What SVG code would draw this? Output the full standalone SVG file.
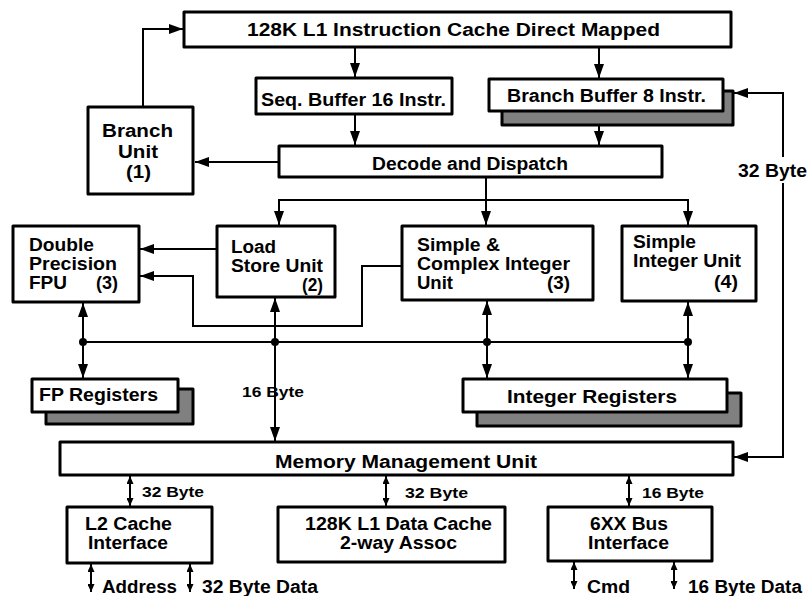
<svg xmlns="http://www.w3.org/2000/svg" width="809" height="596" viewBox="0 0 809 596">
<defs>
<style>
.box{fill:#fff;stroke:#000;stroke-width:3;stroke-linejoin:round}
.sh{fill:#808080;stroke:#000;stroke-width:3;stroke-linejoin:round}
.ln{fill:none;stroke:#000;stroke-width:2}
text{font-family:"Liberation Sans",Arial,Helvetica,sans-serif;font-weight:bold;font-size:18px;fill:#000}
.s{font-size:15px}
</style>
<marker id="ah" markerUnits="userSpaceOnUse" markerWidth="14" markerHeight="10" refX="14" refY="5" orient="auto-start-reverse"><path d="M0,0 L14,5 L0,10 z" fill="#000"/></marker>
<marker id="as" markerUnits="userSpaceOnUse" markerWidth="8" markerHeight="7" refX="8" refY="3.5" orient="auto-start-reverse"><path d="M0,0 L8,3.5 L0,7 z" fill="#000"/></marker>
</defs>
<rect width="809" height="596" fill="#fff"/>

<g id="connectors">
<path class="ln" d="M355,47 V77" marker-end="url(#ah)"/>
<path class="ln" d="M599,47 V78" marker-end="url(#ah)"/>
<path class="ln" d="M355,114 V145" marker-end="url(#ah)"/>
<path class="ln" d="M599,125 V145" marker-end="url(#ah)"/>
<path class="ln" d="M279,162 H195" marker-end="url(#ah)"/>
<path class="ln" d="M143,107 V29 H183" marker-end="url(#ah)"/>
<path class="ln" d="M783,183 V457 H734" marker-end="url(#ah)"/>
<path class="ln" d="M783,157 V93 H734" marker-end="url(#ah)"/>
<path class="ln" d="M279,225 V200 H688 V225" marker-start="url(#ah)" marker-end="url(#ah)"/>
<path class="ln" d="M486,177 V225" marker-end="url(#ah)"/>
<path class="ln" d="M217,249 H140" marker-end="url(#ah)"/>
<path class="ln" d="M402,266 H362 V326 H193 V276 H140" marker-end="url(#ah)"/>
<path class="ln" d="M83,342 H688"/>
<circle cx="83" cy="342" r="4"/>
<circle cx="275" cy="342" r="4"/>
<circle cx="487" cy="342" r="4"/>
<circle cx="688" cy="342" r="4"/>
<path class="ln" d="M83,303 V378" marker-start="url(#ah)" marker-end="url(#ah)"/>
<path class="ln" d="M275,298 V441" marker-start="url(#ah)" marker-end="url(#ah)"/>
<path class="ln" d="M487,301 V378" marker-start="url(#ah)" marker-end="url(#ah)"/>
<path class="ln" d="M688,302 V378" marker-start="url(#ah)" marker-end="url(#ah)"/>
<path class="ln" d="M130,476 V506" marker-start="url(#as)" marker-end="url(#as)"/>
<path class="ln" d="M386,476 V506" marker-start="url(#as)" marker-end="url(#as)"/>
<path class="ln" d="M629,476 V506" marker-start="url(#as)" marker-end="url(#as)"/>
<path class="ln" d="M91,564 V592" marker-start="url(#as)" marker-end="url(#as)"/>
<path class="ln" d="M190,564 V592" marker-start="url(#as)" marker-end="url(#as)"/>
<path class="ln" d="M574,562 V589" marker-start="url(#as)" marker-end="url(#as)"/>
<path class="ln" d="M674,562 V589" marker-start="url(#as)" marker-end="url(#as)"/>
<text x="738" y="177" textLength="69" lengthAdjust="spacingAndGlyphs">32 Byte</text>
<text class="s" x="242" y="397" textLength="62" lengthAdjust="spacingAndGlyphs">16 Byte</text>
<text class="s" x="142" y="497" textLength="62" lengthAdjust="spacingAndGlyphs">32 Byte</text>
<text class="s" x="405" y="498" textLength="63" lengthAdjust="spacingAndGlyphs">32 Byte</text>
<text class="s" x="642" y="498" textLength="62" lengthAdjust="spacingAndGlyphs">16 Byte</text>
<text x="102" y="593" textLength="75" lengthAdjust="spacingAndGlyphs">Address</text>
<text x="202" y="593" textLength="116" lengthAdjust="spacingAndGlyphs">32 Byte Data</text>
<text x="587" y="593" textLength="43" lengthAdjust="spacingAndGlyphs">Cmd</text>
<text x="688" y="593" textLength="114" lengthAdjust="spacingAndGlyphs">16 Byte Data</text>
</g>

<g id="l1icache">
<rect class="box" x="184" y="12" width="547" height="35"/>
<text x="247" y="36" textLength="413" lengthAdjust="spacingAndGlyphs">128K L1 Instruction Cache Direct Mapped</text>
</g>
<g id="seqbuffer">
<rect class="box" x="256" y="78" width="196" height="36"/>
<text x="261" y="105.5" textLength="185" lengthAdjust="spacingAndGlyphs">Seq. Buffer 16 Instr.</text>
</g>
<g id="branchbuffer">
<rect class="sh" x="502" y="91" width="231" height="34"/>
<rect class="box" x="489" y="79" width="234" height="32"/>
<text x="507" y="101.7" textLength="199" lengthAdjust="spacingAndGlyphs">Branch Buffer 8 Instr.</text>
</g>
<g id="decode">
<rect class="box" x="279" y="146" width="383" height="31"/>
<text x="372" y="170" textLength="196" lengthAdjust="spacingAndGlyphs">Decode and Dispatch</text>
</g>
<g id="branchunit">
<rect class="box" x="88" y="107" width="105" height="87"/>
<text x="102" y="137" textLength="71" lengthAdjust="spacingAndGlyphs">Branch</text>
<text x="118" y="157.5" textLength="40" lengthAdjust="spacingAndGlyphs">Unit</text>
<text x="126" y="177.5" textLength="25" lengthAdjust="spacingAndGlyphs">(1)</text>
</g>
<g id="fpu">
<rect class="box" x="13" y="226" width="126" height="76"/>
<text x="29" y="251" textLength="65" lengthAdjust="spacingAndGlyphs">Double</text>
<text x="29" y="270" textLength="88" lengthAdjust="spacingAndGlyphs">Precision</text>
<text x="29" y="289" textLength="38" lengthAdjust="spacingAndGlyphs">FPU</text>
<text x="96" y="289" textLength="22" lengthAdjust="spacingAndGlyphs">(3)</text>
</g>
<g id="lsu">
<rect class="box" x="217" y="226" width="118" height="71"/>
<text x="231" y="253" textLength="45" lengthAdjust="spacingAndGlyphs">Load</text>
<text x="231" y="272" textLength="92" lengthAdjust="spacingAndGlyphs">Store Unit</text>
<text x="302" y="291" textLength="21" lengthAdjust="spacingAndGlyphs">(2)</text>
</g>
<g id="sciu">
<rect class="box" x="402" y="226" width="191" height="74"/>
<text x="417" y="251" textLength="83" lengthAdjust="spacingAndGlyphs">Simple &amp;</text>
<text x="417" y="269.5" textLength="153" lengthAdjust="spacingAndGlyphs">Complex Integer</text>
<text x="417" y="288.5" textLength="36" lengthAdjust="spacingAndGlyphs">Unit</text>
<text x="547" y="288.5" textLength="23" lengthAdjust="spacingAndGlyphs">(3)</text>
</g>
<g id="siu">
<rect class="box" x="622" y="226" width="134" height="75"/>
<text x="633" y="248" textLength="63" lengthAdjust="spacingAndGlyphs">Simple</text>
<text x="633" y="267" textLength="108" lengthAdjust="spacingAndGlyphs">Integer Unit</text>
<text x="714" y="288" textLength="24" lengthAdjust="spacingAndGlyphs">(4)</text>
</g>
<g id="fpregs">
<rect class="sh" x="46" y="389" width="147" height="35"/>
<rect class="box" x="32" y="379" width="146" height="33"/>
<text x="39" y="401" textLength="119" lengthAdjust="spacingAndGlyphs">FP Registers</text>
</g>
<g id="intregs">
<rect class="sh" x="477" y="393" width="264" height="33"/>
<rect class="box" x="463" y="379" width="264" height="33"/>
<text x="507" y="403" textLength="170" lengthAdjust="spacingAndGlyphs">Integer Registers</text>
</g>
<g id="mmu">
<rect class="box" x="60" y="442" width="673" height="33"/>
<text x="275" y="468" textLength="262" lengthAdjust="spacingAndGlyphs">Memory Management Unit</text>
</g>
<g id="l2cache">
<rect class="box" x="67" y="507" width="145" height="56"/>
<text x="85" y="530" textLength="87" lengthAdjust="spacingAndGlyphs">L2 Cache</text>
<text x="88" y="549" textLength="80" lengthAdjust="spacingAndGlyphs">Interface</text>
</g>
<g id="l1dcache">
<rect class="box" x="278" y="507" width="227" height="55"/>
<text x="305" y="530" textLength="187" lengthAdjust="spacingAndGlyphs">128K L1 Data Cache</text>
<text x="340" y="549" textLength="117" lengthAdjust="spacingAndGlyphs">2-way Assoc</text>
</g>
<g id="businterface">
<rect class="box" x="548" y="507" width="164" height="54"/>
<text x="590" y="530" textLength="78" lengthAdjust="spacingAndGlyphs">6XX Bus</text>
<text x="588" y="549" textLength="81" lengthAdjust="spacingAndGlyphs">Interface</text>
</g>
</svg>
